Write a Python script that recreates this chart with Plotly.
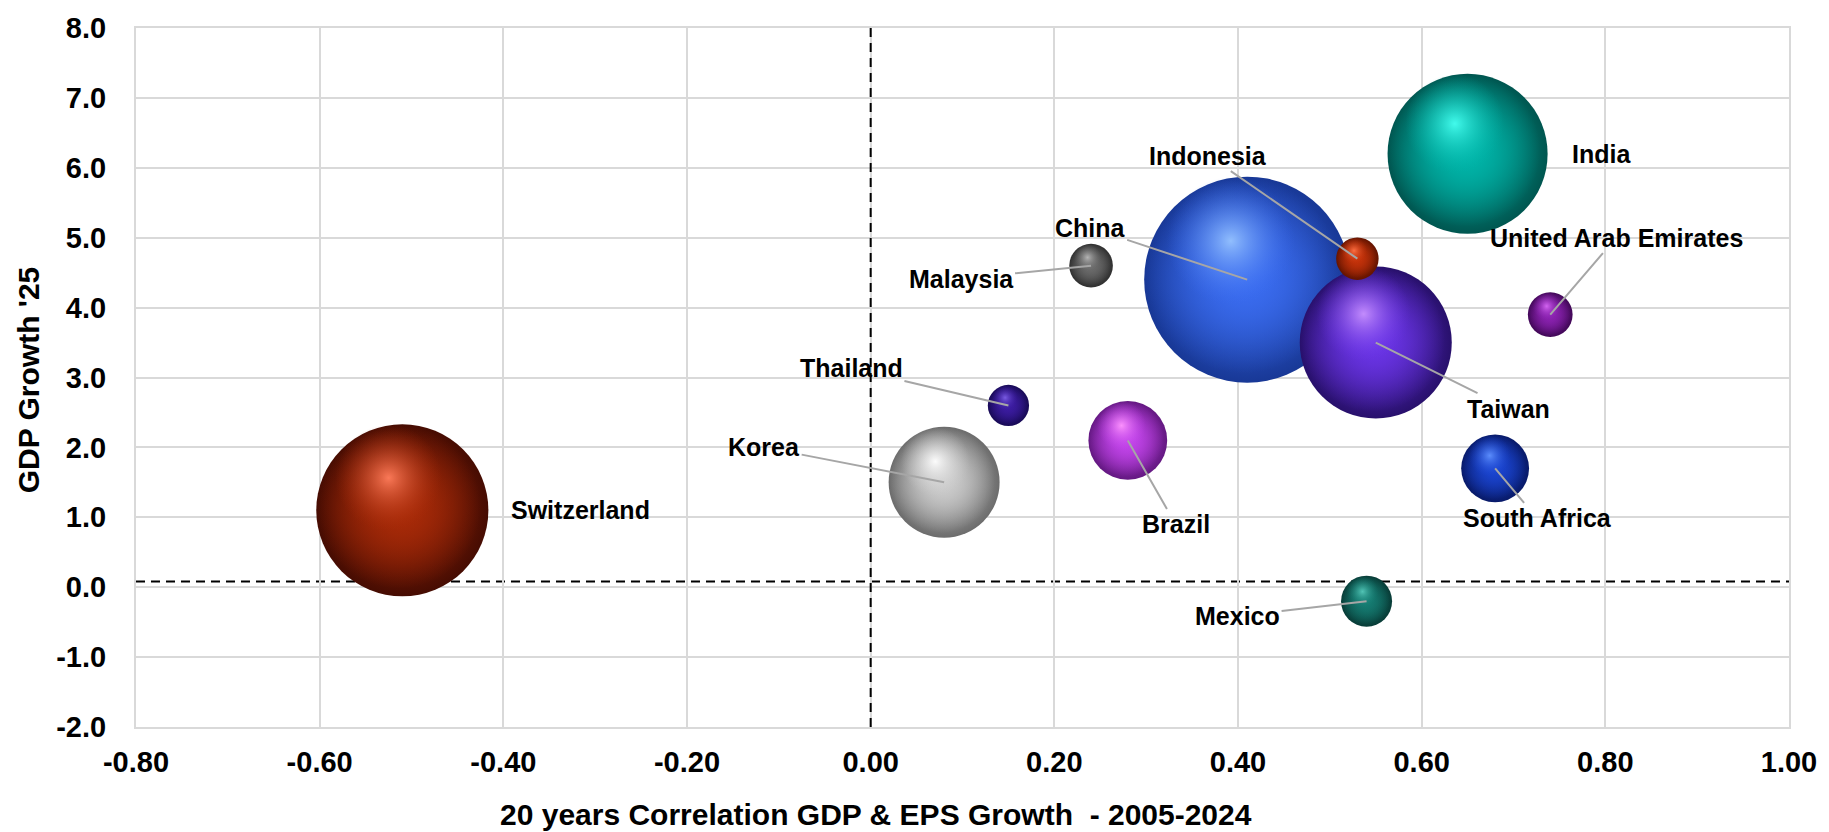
import plotly.graph_objects as go

# ---------------- data ----------------
countries = ["China", "Switzerland", "India", "Taiwan", "Korea", "Brazil",
             "South Africa", "Mexico", "United Arab Emirates", "Malaysia",
             "Indonesia", "Thailand"]
corr_gdp_eps = [0.41, -0.51, 0.65, 0.55, 0.08, 0.28, 0.68, 0.54, 0.74, 0.24, 0.53, 0.15]
gdp_growth_25 = [4.4, 1.1, 6.2, 3.5, 1.5, 2.1, 1.7, -0.2, 3.9, 4.6, 4.7, 2.6]
bubble_size = [42.4, 29.6, 25.6, 23.1, 12.3, 6.2, 4.6, 2.6, 2.0, 1.9, 1.8, 1.7]

x_range = [-0.8, 1.0]
y_range = [-2, 8]
x_tickvals = [-0.8, -0.6, -0.4, -0.2, 0.0, 0.2, 0.4, 0.6, 0.8, 1.0]
x_ticktext = ["-0.80", "-0.60", "-0.40", "-0.20", "0.00", "0.20", "0.40", "0.60", "0.80", "1.00"]
y_tickvals = [-2, -1, 0, 1, 2, 3, 4, 5, 6, 7, 8]
y_ticktext = ["-2.0", "-1.0", "0.0", "1.0", "2.0", "3.0", "4.0", "5.0", "6.0", "7.0", "8.0"]

ref_x = 0.0
ref_y = 0.08

x_title = "20 years Correlation GDP & EPS Growth \u00a0- 2005-2024"
y_title = "GDP Growth '25"

# ---------------- styles ----------------
W, H = 1829, 832
margin = dict(l=136, r=36, t=21, b=105)
max_bubble_px = 206  # diameter of the largest bubble in pixels

mid_colors = [(58, 108, 240), (168, 42, 8), (0, 180, 168), (106, 52, 230), (204, 204, 204),
              (194, 68, 234), (26, 68, 208), (21, 124, 114), (140, 34, 178), (108, 108, 108),
              (196, 50, 10), (60, 28, 162)]
edge_colors = [(24, 56, 150), (70, 12, 2), (0, 86, 80), (40, 16, 108), (108, 108, 108),
               (100, 24, 130), (8, 26, 105), (8, 60, 55), (66, 8, 88), (48, 48, 48),
               (100, 20, 0), (24, 10, 86)]
glint_colors = [(150, 195, 255), (255, 125, 92), (70, 255, 240), (200, 145, 255), (255, 255, 255),
                (255, 150, 255), (95, 145, 255), (85, 200, 185), (215, 105, 245), (185, 185, 185),
                (255, 115, 70), (125, 95, 230)]
body_scale = 0.95                  # soft body layer diameter relative to bubble diameter
body_shift = (-0.02, 0.02)         # body offset (right, up) relative to bubble diameter
glint_scale = 0.62                 # glint diameter relative to bubble diameter
glint_shift = (-0.08, 0.19)        # glint offset (right, up) relative to bubble diameter

label_style = {
    "China": (-157, -52, True),
    "Switzerland": (178, 0, False),
    "India": (134, 0, False),
    "Taiwan": (133, 66, True),
    "Korea": (-180, -35, True),
    "Brazil": (48, 84, True),
    "South Africa": (42, 50, True),
    "Mexico": (-129, 15, True),
    "United Arab Emirates": (66, -77, True),
    "Malaysia": (-130, 13, True),
    "Indonesia": (-149, -103, True),
    "Thailand": (-157, -37, True),
}

tick_font = dict(family="Liberation Sans, Arial, sans-serif", size=29, color="black", weight="bold")
title_font = dict(family="Liberation Sans, Arial, sans-serif", size=30, color="black", weight="bold")
label_font = dict(family="Liberation Sans, Arial, sans-serif", size=25, color="black", weight="bold")
grid_color = "#d9d9d9"


def rgb(c, a=1.0):
    return "rgba(%d,%d,%d,%.3f)" % (c[0], c[1], c[2], a)


sizeref = 2.0 * max(bubble_size) / max_bubble_px ** 2
diam_px = [(2.0 * s / sizeref) ** 0.5 for s in bubble_size]
px_per_x = (W - margin["l"] - margin["r"]) / (x_range[1] - x_range[0])
px_per_y = (H - margin["t"] - margin["b"]) / (y_range[1] - y_range[0])


def layer(shift, scale):
    lx = [xv + shift[0] * d / px_per_x for xv, d in zip(corr_gdp_eps, diam_px)]
    ly = [yv + shift[1] * d / px_per_y for yv, d in zip(gdp_growth_25, diam_px)]
    ls = [s * scale ** 2 for s in bubble_size]
    return lx, ly, ls


body_x, body_y, body_size = layer(body_shift, body_scale)
glint_x, glint_y, glint_size = layer(glint_shift, glint_scale)

fig = go.Figure()

for i in range(len(countries)):
    fig.add_trace(go.Scatter(
        x=[corr_gdp_eps[i]], y=[gdp_growth_25[i]], mode="markers",
        text=[countries[i]], hoverinfo="text", name=countries[i],
        marker=dict(
            size=[bubble_size[i]], sizemode="area", sizeref=sizeref,
            color=rgb(edge_colors[i]),
            gradient=dict(type="radial", color=rgb(mid_colors[i])),
            line=dict(width=0), opacity=1,
        ),
        showlegend=False,
    ))
    fig.add_trace(go.Scatter(
        x=[body_x[i]], y=[body_y[i]], mode="markers", hoverinfo="skip",
        marker=dict(
            size=[body_size[i]], sizemode="area", sizeref=sizeref,
            color=rgb(mid_colors[i], 0.0),
            gradient=dict(type="radial", color=rgb(mid_colors[i], 1.0)),
            line=dict(width=0), opacity=1,
        ),
        showlegend=False,
    ))
    fig.add_trace(go.Scatter(
        x=[glint_x[i]], y=[glint_y[i]], mode="markers", hoverinfo="skip",
        marker=dict(
            size=[glint_size[i]], sizemode="area", sizeref=sizeref,
            color=rgb(mid_colors[i], 0.0),
            gradient=dict(type="radial", color=rgb(glint_colors[i], 0.95)),
            line=dict(width=0), opacity=1,
        ),
        showlegend=False,
    ))

annotations = []
for name, xv, yv in zip(countries, corr_gdp_eps, gdp_growth_25):
    dx, dy, leader = label_style[name]
    if leader:
        annotations.append(dict(
            x=xv, y=yv, xref="x", yref="y", text=name, showarrow=True,
            ax=dx, ay=dy, axref="pixel", ayref="pixel",
            arrowhead=0, arrowwidth=2, arrowcolor="#a6a6a6", standoff=0,
            font=label_font,
        ))
    else:
        annotations.append(dict(
            x=xv, y=yv, xref="x", yref="y", text=name, showarrow=False,
            xshift=dx, yshift=-dy, font=label_font,
        ))

annotations.append(dict(
    x=0.4478, y=-0.1246, xref="paper", yref="paper", text=x_title,
    showarrow=False, xanchor="center", yanchor="middle", font=title_font,
))
annotations.append(dict(
    x=-0.0649, y=0.497, xref="paper", yref="paper", text=y_title,
    showarrow=False, xanchor="center", yanchor="middle", textangle=-90, font=title_font,
))

shapes = [
    dict(type="line", xref="x", yref="paper", x0=ref_x, x1=ref_x, y0=0, y1=1,
         line=dict(color="black", width=2, dash="9px,6px"), layer="above"),
    dict(type="line", xref="paper", yref="y", x0=0, x1=1, y0=ref_y, y1=ref_y,
         line=dict(color="black", width=2, dash="9px,6px"), layer="between"),
]

fig.update_layout(
    width=W, height=H,
    margin=margin,
    paper_bgcolor="white", plot_bgcolor="white",
    annotations=annotations, shapes=shapes,
    showlegend=False,
)
fig.update_xaxes(
    range=x_range, tickvals=x_tickvals, ticktext=x_ticktext,
    showgrid=True, gridcolor=grid_color, gridwidth=2, zeroline=False,
    showline=True, mirror=True, linecolor=grid_color, linewidth=2,
    ticks="", tickfont=tick_font, ticklabelstandoff=8,
)
fig.update_yaxes(
    range=y_range, tickvals=y_tickvals, ticktext=y_ticktext,
    showgrid=True, gridcolor=grid_color, gridwidth=2, zeroline=False,
    showline=True, mirror=True, linecolor=grid_color, linewidth=2,
    ticks="", tickfont=tick_font, ticklabelstandoff=22,
)

fig.write_html("out.html")
